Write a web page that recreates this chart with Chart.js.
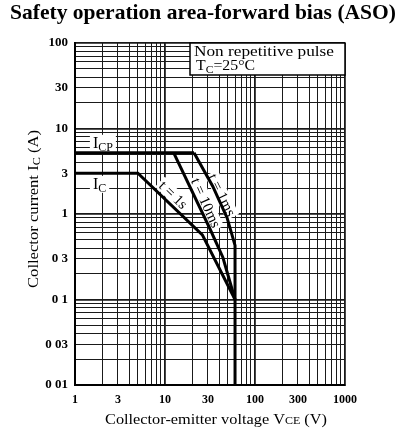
<!DOCTYPE html>
<html><head><meta charset="utf-8">
<script src="https://cdn.jsdelivr.net/npm/chart.js@4.4.0/dist/chart.umd.min.js"></script>
<style>html,body{margin:0;padding:0;background:#fff;}#wrap{width:400px;height:429px;}</style>
</head><body><div id="wrap"><canvas id="c" width="400" height="429"></canvas></div>
<script>
// ---- data ----
const xTickValues = [1, 3, 10, 30, 100, 300, 1000];
const xTickLabels = ['1', '3', '10', '30', '100', '300', '1000'];
const yTickValues = [0.01, 0.03, 0.1, 0.3, 1, 3, 10, 30, 100];
const yTickLabels = ['0 01', '0 03', '0 1', '0 3', '1', '3', '10', '30', '100'];

// I_C (DC) line continuing into t = 1s
const icV = [1, 5, 26, 60];
const icA = [3, 3, 0.57, 0.1];
// I_CP line
const icpV = [1, 21];
const icpA = [5.2, 5.2];
// t = 10ms
const t10V = [12.5, 31, 44, 60];
const t10A = [5.2, 0.7, 0.31, 0.1];
// t = 1ms (ends in the vertical V_CEO limit)
const t1msV = [21, 34, 49, 60, 60];
const t1msA = [5.2, 2.1, 0.9, 0.43, 0.01];

const titleText = 'Safety operation area-forward bias (ASO)';
const noteLine1 = 'Non repetitive pulse';

const toPts = (xs, ys) => xs.map((x, i) => ({x: x, y: ys[i]}));
const SERIF = '"Liberation Serif", "DejaVu Serif", serif';

function lbl(values, labels) {
  return (v) => {
    const i = values.findIndex(t => Math.abs(v / t - 1) < 1e-6);
    return i >= 0 ? labels[i] : '';
  };
}
function allLogTicks(lo, hi) {
  return (scale) => {
    const t = [];
    for (let e = lo; e < hi; e++) for (let m = 1; m < 10; m++) t.push({value: m * Math.pow(10, e)});
    t.push({value: Math.pow(10, hi)});
    scale.ticks = t;
  };
}
function isDecade(v) { const l = Math.log10(v); return Math.abs(l - Math.round(l)) < 1e-6; }

// draws text pieces [text, sizeFactor, dy]; optional target width stretches horizontally
function drawPieces(ctx, pieces, x, y, size, align, target) {
  let w = 0;
  pieces.forEach(p => { ctx.font = Math.round(size * p[1]) + 'px ' + SERIF; w += ctx.measureText(p[0]).width; });
  const k = target ? target / w : 1;
  ctx.save();
  ctx.translate(align === 'center' ? x - w * k / 2 : x, y);
  ctx.scale(k, 1);
  let cx = 0;
  ctx.textAlign = 'left';
  pieces.forEach(p => {
    ctx.font = Math.round(size * p[1]) + 'px ' + SERIF;
    ctx.fillText(p[0], cx, (p[2] || 0));
    cx += ctx.measureText(p[0]).width;
  });
  ctx.restore();
  return w * k;
}

const curveLabels = [
  {text: 't = 1s', x: 12.4, y: 1.68, angle: 44},
  {text: 't = 10ms', x: 28.6, y: 1.35, angle: 66},
  {text: 't = 1ms', x: 43, y: 1.67, angle: 64}
];
const flatLabels = [
  {pieces: [['I', 1, 0], ['CP', 0.78, 3]], x: 1.58, y: 6.8},
  {pieces: [['I', 1, 0], ['C', 0.78, 3]], x: 1.58, y: 2.25}
];

const decor = {
  id: 'decor',
  beforeDatasetsDraw(chart) {
    const ctx = chart.ctx, xs = chart.scales.x, ys = chart.scales.y;
    ctx.save();
    ctx.fillStyle = '#fff';
    curveLabels.forEach(l => {
      ctx.save();
      ctx.translate(xs.getPixelForValue(l.x), ys.getPixelForValue(l.y));
      ctx.rotate(l.angle * Math.PI / 180);
      ctx.font = '15px ' + SERIF;
      const w = ctx.measureText(l.text).width;
      ctx.fillRect(-w / 2 - 2, -7, w + 4, 14);
      ctx.restore();
    });
    flatLabels.forEach(l => {
      const px = xs.getPixelForValue(l.x), py = ys.getPixelForValue(l.y);
      let w = 0;
      l.pieces.forEach(p => { ctx.font = Math.round(16 * p[1]) + 'px ' + SERIF; w += ctx.measureText(p[0]).width; });
      ctx.fillRect(px - 3, py - 8, w + 6, 17);
    });
    ctx.restore();
  },
  afterDraw(chart) {
    const ctx = chart.ctx, xs = chart.scales.x, ys = chart.scales.y, ca = chart.chartArea;
    ctx.save();
    ctx.fillStyle = '#000';
    ctx.textBaseline = 'middle';
    curveLabels.forEach(l => {
      ctx.save();
      ctx.translate(xs.getPixelForValue(l.x), ys.getPixelForValue(l.y));
      ctx.rotate(l.angle * Math.PI / 180);
      ctx.font = '15px ' + SERIF;
      ctx.textAlign = 'center';
      ctx.fillText(l.text, 0, 1);
      ctx.restore();
    });
    ctx.textBaseline = 'alphabetic';
    flatLabels.forEach(l => {
      const px = xs.getPixelForValue(l.x), py = ys.getPixelForValue(l.y);
      drawPieces(ctx, l.pieces, px, py + 5, 16, 'left');
    });
    // note box
    const bx = 190, by = ca.top, bw = ca.right - 190, bh = 32;
    ctx.fillStyle = '#fff';
    ctx.fillRect(bx, by, bw, bh);
    ctx.strokeStyle = '#000'; ctx.lineWidth = 1.5;
    ctx.strokeRect(bx, by, bw, bh);
    ctx.fillStyle = '#000';
    drawPieces(ctx, [[noteLine1, 1, 0]], bx + 4, by + 13, 15, 'left', 140);
    drawPieces(ctx, [['T', 1, 0], ['C', 0.75, 3], ['=25\u00B0C', 1, 0]], bx + 6, by + 27, 15, 'left', 59);

    // main title, fitted to width
    ctx.font = 'bold 22px ' + SERIF;
    const tw = ctx.measureText(titleText).width;
    ctx.save();
    ctx.translate(10, 19);
    ctx.scale(386 / tw, 1);
    ctx.textAlign = 'left';
    ctx.fillText(titleText, 0, 0);
    ctx.restore();

    // x axis title
    drawPieces(ctx, [['Collector-emitter voltage V', 1, 0], ['CE', 0.72, 0], [' (V)', 1, 0]], 216, 424, 15, 'center', 222);
    // y axis title
    ctx.save();
    ctx.translate(38, 209);
    ctx.rotate(-Math.PI / 2);
    drawPieces(ctx, [['Collector current I', 1, 0], ['C', 0.72, 2], [' (A)', 1, 0]], 0, 0, 15, 'center', 158);
    ctx.restore();
    ctx.restore();
  }
};

const lineDs = (pts) => ({
  data: pts, showLine: true, borderColor: '#000', borderWidth: 3,
  pointRadius: 0, fill: false, tension: 0, borderJoinStyle: 'miter'
});

const gridOpt = {
  color: '#1a1a1a', drawTicks: false,
  lineWidth: (c) => (c.tick && isDecade(c.tick.value) ? 1.8 : 1)
};

new Chart(document.getElementById('c'), {
  type: 'scatter',
  data: {
    datasets: [
      lineDs(toPts(icV, icA)),
      lineDs(toPts(icpV, icpA)),
      lineDs(toPts(t10V, t10A)),
      lineDs(toPts(t1msV, t1msA))
    ]
  },
  options: {
    responsive: false, animation: false, devicePixelRatio: 1,
    layout: {padding: {left: 0, top: 43, right: 55, bottom: 0}},
    plugins: {legend: {display: false}, tooltip: {enabled: false}, title: {display: false}},
    scales: {
      x: {
        type: 'logarithmic', min: 1, max: 1000,
        afterBuildTicks: allLogTicks(0, 3),
        afterFit: (s) => { s.height = 44; },
        grid: gridOpt,
        border: {display: true, color: '#000', width: 2},
        ticks: {callback: lbl(xTickValues, xTickLabels), autoSkip: false, maxRotation: 0, minRotation: 0,
                color: '#000', font: {family: SERIF, size: 12, weight: 'bold'}, padding: 8}
      },
      y: {
        type: 'logarithmic', min: 0.01, max: 100,
        afterBuildTicks: allLogTicks(-2, 2),
        afterFit: (s) => { s.width = 75; },
        grid: gridOpt,
        border: {display: true, color: '#000', width: 2},
        ticks: {callback: lbl(yTickValues, yTickLabels), autoSkip: false,
                color: '#000', font: {family: SERIF, size: 13, weight: 'bold'}, padding: 7}
      }
    }
  },
  plugins: [decor]
});
</script>
</body></html>
